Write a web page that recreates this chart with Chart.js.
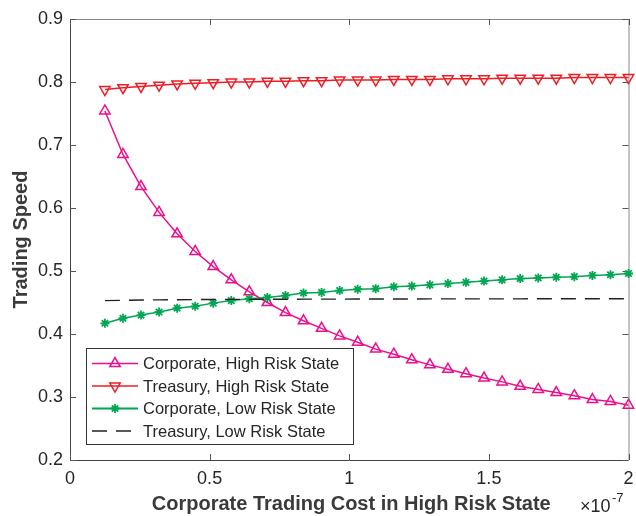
<!DOCTYPE html>
<html>
<head>
<meta charset="utf-8">
<script src="https://cdn.jsdelivr.net/npm/chart.js@4.4.0/dist/chart.umd.min.js"></script>
<style>
  html, body { margin: 0; padding: 0; background: #fff; }
  #chart { display: block; }
</style>
</head>
<body>
<canvas id="chart" width="636" height="516"></canvas>
<script>
// corporate trading cost in the high risk state (units of 1e-7)
const costs = [0.125, 0.1897, 0.2543, 0.3190, 0.3836, 0.4483, 0.5129, 0.5776, 0.6422, 0.7069,
               0.7716, 0.8362, 0.9009, 0.9655, 1.0302, 1.0948, 1.1595, 1.2241, 1.2888, 1.3534,
               1.4181, 1.4828, 1.5474, 1.6121, 1.6767, 1.7414, 1.8060, 1.8707, 1.9353, 2.0];

const corpHigh = [0.754, 0.685, 0.634, 0.593, 0.559, 0.531, 0.507, 0.486, 0.467, 0.450,
                  0.434, 0.421, 0.409, 0.397, 0.387, 0.376, 0.368, 0.359, 0.351, 0.344,
                  0.337, 0.330, 0.324, 0.317, 0.312, 0.307, 0.302, 0.296, 0.293, 0.287];

const treasHigh = [0.788, 0.791, 0.793, 0.795, 0.797, 0.798, 0.799, 0.800, 0.800, 0.801,
                   0.801, 0.802, 0.802, 0.803, 0.803, 0.803, 0.804, 0.804, 0.804, 0.805,
                   0.805, 0.805, 0.806, 0.806, 0.806, 0.806, 0.807, 0.807, 0.807, 0.807];

const corpLow = [0.417, 0.425, 0.430, 0.435, 0.441, 0.444, 0.449, 0.453, 0.456, 0.458,
                 0.461, 0.465, 0.466, 0.469, 0.471, 0.472, 0.475, 0.476, 0.478, 0.480,
                 0.482, 0.484, 0.486, 0.488, 0.489, 0.490, 0.491, 0.493, 0.494, 0.496];

const treasLow = [0.4530, 0.4535, 0.4540, 0.4542, 0.4544, 0.4546, 0.4548, 0.4549, 0.4550, 0.4551,
                  0.4552, 0.4553, 0.4554, 0.4554, 0.4555, 0.4555, 0.4556, 0.4556, 0.4557, 0.4557,
                  0.4557, 0.4558, 0.4558, 0.4558, 0.4559, 0.4559, 0.4559, 0.4559, 0.4560, 0.4560];

const seriesNames = ['Corporate, High Risk State', 'Treasury, High Risk State',
                     'Corporate, Low Risk State', 'Treasury, Low Risk State'];

const xTicks = [0, 0.5, 1, 1.5, 2];
const yTicks = [0.2, 0.3, 0.4, 0.5, 0.6, 0.7, 0.8, 0.9];

const FONT = "'Liberation Sans', Arial, Helvetica, sans-serif";
const TEXT = '#262626';
const PINK = '#EC0F8C';
const RED = '#EE1D24';
const GREEN = '#00A651';
const BLACK = '#222222';

function pts(ys) {
    return costs.map((x, i) => ({ x: x, y: ys[i] }));
}

// legend entries: line style + marker for each series
const legendItems = [
    { color: PINK, dash: [], style: 'triangle', rotation: 0, radius: 6, width: 1.5 },
    { color: RED, dash: [], style: 'triangle', rotation: 180, radius: 6, width: 1.5 },
    { color: GREEN, dash: [], style: 'star', rotation: 0, radius: 4.5, width: 1.8 },
    { color: BLACK, dash: [15, 9], style: false, rotation: 0, radius: 0, width: 1.4 }
];

// axes box with inward ticks, drawn the MATLAB way
const frameAndLegend = {
    id: 'frameAndLegend',
    beforeDatasetsDraw(chart) {
        const ctx = chart.ctx;
        const a = chart.chartArea;
        const xs = chart.scales.x, ys = chart.scales.y;
        ctx.save();
        ctx.lineWidth = 1;
        ctx.strokeStyle = '#444';
        ctx.beginPath();
        ctx.moveTo(a.left + 0.5, a.top);
        ctx.lineTo(a.left + 0.5, a.bottom + 0.5);
        ctx.lineTo(a.right, a.bottom + 0.5);
        ctx.stroke();
        ctx.strokeStyle = '#888';
        ctx.beginPath();
        ctx.moveTo(a.left, a.top + 0.5);
        ctx.lineTo(a.right + 0.5, a.top + 0.5);
        ctx.lineTo(a.right + 0.5, a.bottom);
        ctx.stroke();
        const t = 6;
        ctx.strokeStyle = '#555';
        ctx.beginPath();
        xTicks.forEach(v => {
            const px = Math.round(xs.getPixelForValue(v)) + 0.5;
            ctx.moveTo(px, a.bottom); ctx.lineTo(px, a.bottom - t);
            ctx.moveTo(px, a.top); ctx.lineTo(px, a.top + t);
        });
        yTicks.forEach(v => {
            const py = Math.round(ys.getPixelForValue(v)) + 0.5;
            ctx.moveTo(a.left, py); ctx.lineTo(a.left + t, py);
            ctx.moveTo(a.right, py); ctx.lineTo(a.right - t, py);
        });
        ctx.stroke();
        ctx.restore();
    },
    afterDraw(chart) {
        const ctx = chart.ctx;
        const a = chart.chartArea;
        ctx.save();

        // axis titles
        ctx.fillStyle = '#3a3a3a';
        ctx.font = 'bold 20px ' + FONT;
        ctx.textAlign = 'center';
        ctx.textBaseline = 'alphabetic';
        ctx.fillText('Corporate Trading Cost in High Risk State', (a.left + a.right) / 2 + 2, 510);
        ctx.save();
        ctx.translate(27, (a.top + a.bottom) / 2);
        ctx.rotate(-Math.PI / 2);
        ctx.fillText('Trading Speed', 0, 0);
        ctx.restore();

        // exponent of the x axis
        ctx.fillStyle = TEXT;
        ctx.textAlign = 'left';
        ctx.font = '18px ' + FONT;
        ctx.fillText('\u00d710', 580, 512);
        ctx.font = '13px ' + FONT;
        ctx.fillText('-7', 612, 502);

        // legend box
        const bx = 86, by = 348, bw = 267, bh = 96;
        ctx.fillStyle = '#fff';
        ctx.fillRect(bx, by, bw, bh);
        ctx.strokeStyle = '#333';
        ctx.lineWidth = 1;
        ctx.strokeRect(bx + 0.5, by + 0.5, bw, bh);
        const rowH = 22.5;
        legendItems.forEach((it, i) => {
            const cy = by + 15.5 + i * rowH;
            ctx.strokeStyle = it.color;
            ctx.lineWidth = it.width;
            ctx.setLineDash(it.dash);
            ctx.beginPath();
            ctx.moveTo(92, cy);
            ctx.lineTo(138, cy);
            ctx.stroke();
            ctx.setLineDash([]);
            if (it.style) {
                ctx.fillStyle = 'rgba(0,0,0,0)';
                ctx.strokeStyle = it.color;
                Chart.helpers.drawPoint(ctx, {
                    pointStyle: it.style, radius: it.radius,
                    rotation: it.rotation, borderWidth: it.width
                }, 115, cy);
            }
            ctx.fillStyle = TEXT;
            ctx.font = '16.5px ' + FONT;
            ctx.textBaseline = 'middle';
            ctx.fillText(seriesNames[i], 143, cy + 1);
        });
        ctx.restore();
    }
};

const ctx = document.getElementById('chart').getContext('2d');
new Chart(ctx, {
    type: 'line',
    data: {
        datasets: [
            {
                label: seriesNames[0], data: pts(corpHigh), order: 3,
                borderColor: PINK, borderWidth: 1.5,
                pointStyle: 'triangle', pointRadius: 6, pointBorderWidth: 1.5,
                pointBorderColor: PINK, pointBackgroundColor: 'rgba(0,0,0,0)'
            },
            {
                label: seriesNames[1], data: pts(treasHigh), order: 2,
                borderColor: RED, borderWidth: 1.5,
                pointStyle: 'triangle', pointRotation: 180, pointRadius: 6, pointBorderWidth: 1.5,
                pointBorderColor: RED, pointBackgroundColor: 'rgba(0,0,0,0)'
            },
            {
                label: seriesNames[2], data: pts(corpLow), order: 1,
                borderColor: GREEN, borderWidth: 1.5,
                pointStyle: 'star', pointRadius: 4.5, pointBorderWidth: 1.8,
                pointBorderColor: GREEN, pointBackgroundColor: GREEN
            },
            {
                label: seriesNames[3], data: pts(treasLow), order: 0,
                borderColor: BLACK, borderWidth: 1.4, borderDash: [15, 9],
                pointRadius: 0
            }
        ]
    },
    options: {
        responsive: false,
        animation: false,
        devicePixelRatio: 1,
        layout: { padding: { top: 19, right: 7, left: 0, bottom: 0 } },
        elements: { line: { tension: 0, fill: false } },
        datasets: { line: { clip: false } },
        plugins: {
            legend: { display: false },
            tooltip: { enabled: false }
        },
        scales: {
            x: {
                type: 'linear', min: 0, max: 2,
                afterFit: s => { s.height = 56; s.paddingLeft = 0; s.paddingRight = 0; },
                afterBuildTicks: s => { s.ticks = xTicks.map(v => ({ value: v })); },
                grid: { display: false, drawTicks: false },
                border: { display: false },
                ticks: {
                    color: TEXT, padding: 8,
                    font: { family: FONT, size: 18 },
                    callback: v => String(v)
                }
            },
            y: {
                min: 0.2, max: 0.9,
                afterFit: s => { s.width = 70; s.paddingTop = 0; s.paddingBottom = 0; },
                afterBuildTicks: s => { s.ticks = yTicks.map(v => ({ value: v })); },
                grid: { display: false, drawTicks: false },
                border: { display: false },
                ticks: {
                    color: TEXT, padding: 7,
                    font: { family: FONT, size: 18 },
                    callback: v => v.toFixed(1)
                }
            }
        }
    },
    plugins: [frameAndLegend]
});
</script>
</body>
</html>
